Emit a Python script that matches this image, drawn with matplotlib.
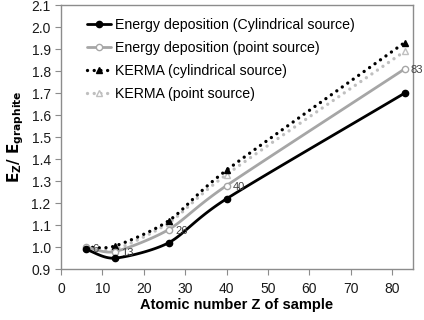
import numpy as np
import matplotlib
matplotlib.use("Agg")
import matplotlib.pyplot as plt
from matplotlib.lines import Line2D

plt.rcParams['font.family'] = ['Liberation Sans', 'DejaVu Sans']

Z = [6, 13, 26, 40, 83]
e_cyl = [0.99, 0.95, 1.02, 1.22, 1.70]
e_pt = [1.00, 0.98, 1.08, 1.28, 1.81]
k_cyl = [1.00, 1.005, 1.12, 1.35, 1.93]
k_pt = [1.00, 0.99, 1.11, 1.33, 1.89]
point_labels = ["6", "13", "26", "40", "83"]
series_names = ["Energy deposition (Cylindrical source)",
                "Energy deposition (point source)",
                "KERMA (cylindrical source)",
                "KERMA (point source)"]

XLIM = (0, 85)
YLIM = (0.9, 2.1)


def smooth(xs, ys, n=30):
    # Catmull-Rom style spline in normalized coordinates (spreadsheet-like smoothing)
    sx = (XLIM[1] - XLIM[0])
    sy = (YLIM[1] - YLIM[0]) * 352 / 263
    P = np.column_stack([np.asarray(xs) / sx, np.asarray(ys) / sy])
    P = np.vstack([P[0] - (P[1] - P[0]), P, P[-1] + (P[-1] - P[-2])])
    out = []
    t = np.linspace(0, 1, n)
    for i in range(1, len(P) - 2):
        p0, p1, p2, p3 = P[i - 1], P[i], P[i + 1], P[i + 2]
        m1 = (p2 - p0) / 2 * 0.8
        m2 = (p3 - p1) / 2 * 0.8
        h00 = 2 * t**3 - 3 * t**2 + 1
        h10 = t**3 - 2 * t**2 + t
        h01 = -2 * t**3 + 3 * t**2
        h11 = t**3 - t**2
        seg = (np.outer(h00, p1) + np.outer(h10, m1) + np.outer(h01, p2) + np.outer(h11, m2))
        out.append(seg if i == 1 else seg[1:])
    out = np.vstack(out)
    return out[:, 0] * sx, out[:, 1] * sy


fig = plt.figure(figsize=(4.24, 3.2), dpi=100)
ax = fig.add_axes([0.144, 0.159, 0.830, 0.825])

DOT = (0, (0.01, 2.0))
styles = [
    dict(color='black', ls='-', lw=2.0, marker='o', mfc='black', mec='black', ms=4.5),
    dict(color='#a6a6a6', ls='-', lw=2.0, marker='o', mfc='white', mec='#a6a6a6', ms=4.5),
    dict(color='black', ls=DOT, lw=2.4, marker='^', mfc='black', mec='black', ms=4.5),
    dict(color='#bfbfbf', ls=DOT, lw=2.4, marker='^', mfc='white', mec='#bfbfbf', ms=4.5),
]
data = [e_cyl, e_pt, k_cyl, k_pt]
order = [3, 2, 1, 0]
handles = [None] * 4
for i in order:
    st = styles[i]
    xs, ys = smooth(Z, data[i])
    ax.plot(xs, ys, color=st['color'], ls=st['ls'], lw=st['lw'], solid_capstyle='round',
            dash_capstyle='round', zorder=2 + (3 - i))
    ax.plot(Z, data[i], ls='none', marker=st['marker'], mfc=st['mfc'], mec=st['mec'],
            ms=st['ms'], mew=1.0, zorder=6)
    handles[i] = Line2D([], [], color=st['color'], ls=st['ls'], lw=st['lw'],
                        marker=st['marker'], mfc=st['mfc'], mec=st['mec'], ms=st['ms'],
                        dash_capstyle='round', solid_capstyle='round')

for z, v, lab in zip(Z, e_pt, point_labels):
    ax.annotate(lab, (z, v), xytext=(4.5, -1), textcoords='offset points',
                fontsize=8, va='center', ha='left', color='#404040', zorder=7)

ax.set_xlim(*XLIM)
ax.set_ylim(*YLIM)
ax.set_xticks(np.arange(0, 81, 10))
ax.set_yticks(np.round(np.arange(0.9, 2.11, 0.1), 1))
ax.yaxis.set_major_formatter(matplotlib.ticker.FormatStrFormatter('%.1f'))
for s in ax.spines.values():
    s.set_color('#8c8c8c')
    s.set_linewidth(1.0)
ax.tick_params(direction='out', length=4, color='#8c8c8c', labelsize=10, labelcolor='#1a1a1a')
ax.tick_params(axis='x', pad=5)
ax.set_xlabel('Atomic number Z of sample', fontsize=10.5, fontweight='bold', labelpad=2)
ax.set_ylabel(r'$\mathbf{E_{Z}/\ E_{graphite}}$', fontsize=11, labelpad=4)

leg = ax.legend(handles, series_names, loc='upper left', bbox_to_anchor=(0.05, 0.982),
                frameon=False, fontsize=10.2, handlelength=1.7, handletextpad=0.25,
                labelspacing=0.62, borderaxespad=0.2)

fig.savefig('out.png', dpi=100)
